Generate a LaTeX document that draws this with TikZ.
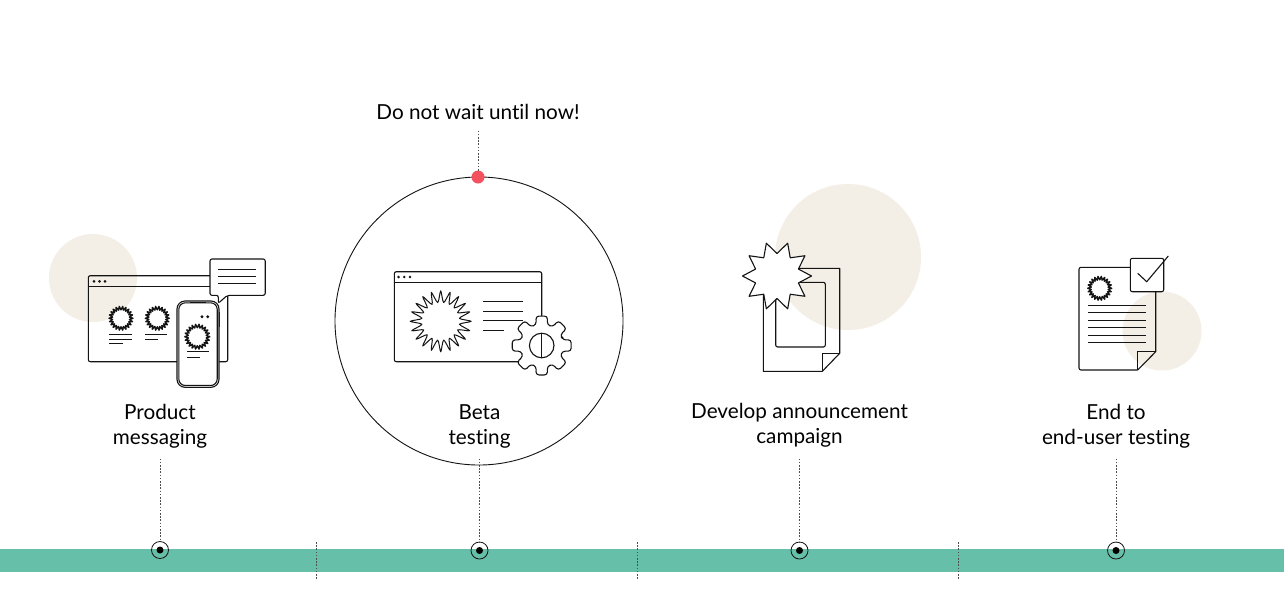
\documentclass[tikz,border=0pt]{standalone}
\usepackage{fontspec}
\setmainfont[Ligatures=NoCommon,Contextuals=NoAlternate]{Lato}
\definecolor{sand}{HTML}{F4EFE6}
\definecolor{band}{HTML}{66BFA8}
\definecolor{ink}{HTML}{141414}
\definecolor{alert}{HTML}{F4515F}
% spiked badge: centre x, centre y, outer radius, inner radius, tips, phase
\newcommand\spikedbadge[7][]{%
  \pgfmathtruncatemacro\lastidx{2*#6-1}%
  \draw[ink,line join=round,fill=white,#1] plot[variable=\k,samples at={0,...,\lastidx}]
    ({#2+(mod(\k,2)==0?#4:#5)*cos(#7+\k*180/#6)},{#3+(mod(\k,2)==0?#4:#5)*sin(#7+\k*180/#6)}) -- cycle;%
}
% the same outline with soft, wavy tips
\newcommand\wavybadge[7][]{%
  \pgfmathtruncatemacro\lastidx{2*#6-1}%
  \draw[ink,line join=round,fill=white,#1] plot[smooth cycle,tension=0.45,variable=\k,samples at={0,...,\lastidx}]
    ({#2+(mod(\k,2)==0?#4:#5)*cos(#7+\k*180/#6)},{#3+(mod(\k,2)==0?#4:#5)*sin(#7+\k*180/#6)});%
}
\tikzset{
  x=1pt,y=-1pt,
  outline/.style={draw=ink,line width=1.1pt,line join=round},
  soft/.style={outline,rounded corners=2pt},
  whitefill/.style={fill=white},
  textline/.style={draw=ink,line width=1pt},
  smalldot/.style={fill=ink,draw=none},
  halo/.style={fill=sand,draw=none},
  stem/.style={draw=ink!75,line width=0.8pt,dash pattern=on 1.6pt off 1.6pt},
  caption/.style={font=\fontsize{20.7}{25}\selectfont,text=black,align=center,inner sep=0pt,outer sep=0pt},
  ring/.style={circle,draw=ink,line width=0.8pt,minimum size=17pt,inner sep=0pt,outer sep=0pt},
  hub/.style={circle,fill=black,minimum size=7pt,inner sep=0pt},
}
\begin{document}
\begin{tikzpicture}
\useasboundingbox (0,0) rectangle (1284,590);
\fill[white] (0,0) rectangle (1284,590);

% timeline band
\fill[band] (0,549) rectangle (1284,572);

% sand discs
\fill[halo] (93,278) circle[radius=44];
\fill[halo] (848,257) circle[radius=73];
\fill[halo] (1162,331) circle[radius=39.5];

% phase separators
\coordinate (sepAt) at (316.7,542); \coordinate (sepAb) at (316.7,580);
\coordinate (sepBt) at (637,542);   \coordinate (sepBb) at (637,580);
\coordinate (sepCt) at (958,542);   \coordinate (sepCb) at (958,580);
\draw[stem] (sepAt) -- (sepAb);
\draw[stem] (sepBt) -- (sepBb);
\draw[stem] (sepCt) -- (sepCb);

% captions
\node[caption,minimum height=64pt] (capA) at (160,426.5) {Product\\messaging};
\node[caption,minimum height=64pt] (capB) at (479.5,426.5) {Beta\\testing};
\node[caption,minimum height=66pt] (capC) at (799.5,425.5) {Develop announcement\\campaign};
\node[caption,minimum height=64pt] (capD) at (1116,426.5) {End to\\end-user testing};

% timeline markers
\node[ring] (mkA) at (160,550) {};
\node[ring] (mkB) at (479.5,550.5) {};
\node[ring] (mkC) at (799.5,550.5) {};
\node[ring] (mkD) at (1116,550.5) {};
\node[hub] at (mkA) {};
\node[hub] at (mkB) {};
\node[hub] at (mkC) {};
\node[hub] at (mkD) {};
\draw[stem] (capA.south) -- (mkA.north);
\draw[stem] (capB.south) -- (mkB.north);
\draw[stem] (capC.south) -- (mkC.north);
\draw[stem] (capD.south) -- (mkD.north);

% browser with phone and speech bubble
\draw[soft] (88.3,275.7) rectangle (227.7,361.7);
\draw[textline] (88.3,286.7) -- (227.7,286.7);
\foreach \px in {94,99.5,105} \fill[smalldot] (\px,281.3) circle[radius=1.5];
\spikedbadge[line width=1.4pt]{121}{318.3}{12}{8.5}{22}{0}
\spikedbadge[line width=1.4pt]{157.3}{318.3}{12}{8.5}{22}{0}
\draw[textline] (109.3,334) -- (131.7,334) (109.3,339) -- (131.7,339) (109.3,343.7) -- (122.7,343.7);
\draw[textline] (145.3,334) -- (167.3,334) (145.3,339) -- (158.3,339);
\draw[textline] (219.3,312) -- (219.3,327);
\draw[outline,whitefill,rounded corners=8pt] (177,301) rectangle (219,387.3);
\draw[outline,rounded corners=6.5pt] (178.8,302.8) rectangle (217.2,385.5);
\draw[textline] (190,302.5) -- (206,302.5);
\fill[smalldot] (202,316.7) circle[radius=1.6] (207.7,316.7) circle[radius=1.6];
\spikedbadge[line width=1.4pt]{197.3}{336.7}{12.5}{9}{22}{0}
\draw[textline] (187,351.7) -- (209,351.7) (187,357) -- (200,357);
\draw[soft,whitefill] (210,259) -- (265.2,259) -- (265.2,295.3) -- (227.3,295.3) -- (218.3,303.3) -- (218.3,295.3) -- (210,295.3) -- cycle;
\draw[textline] (218,269.7) -- (256,269.7) (218,276.7) -- (256,276.7) (218,283.7) -- (256,283.7);

% highlighted phase
\draw[ink,line width=0.9pt] (479,321) circle[radius=144];
\draw[soft] (394.3,271.7) rectangle (541.7,361.7);
\draw[textline] (394.3,282.7) -- (541.7,282.7);
\foreach \px in {398.6,404.3,410} \fill[smalldot] (\px,277) circle[radius=1.4];
\wavybadge[line width=1pt]{440.7}{321.3}{30.5}{19}{20}{-90}
\draw[textline] (483.3,301.7) -- (523,301.7) (483.3,311) -- (523,311) (483.3,320.7) -- (523,320.7) (483.3,330) -- (504,330);
\draw[outline,whitefill,rounded corners=3pt]
  ({541.7+21.5*cos(-15)},{345.5+21.5*sin(-15)})
  \foreach \a in {0,45,...,315}{
    -- ({541.7+30*cos(\a-11)},{345.5+30*sin(\a-11)})
    -- ({541.7+30*cos(\a+11)},{345.5+30*sin(\a+11)})
    -- ({541.7+21.5*cos(\a+15)},{345.5+21.5*sin(\a+15)})
    -- ({541.7+21.5*cos(\a+30)},{345.5+21.5*sin(\a+30)})
  } -- cycle;
\draw[outline] (541.7,345.5) circle[radius=12.3];
\draw[textline] (541.7,333.2) -- (541.7,357.8);

% warning above the highlighted phase
\node[font=\fontsize{20.7}{25}\selectfont,text=black,inner sep=0pt,outer sep=0pt,minimum height=38pt] (warn) at (478,111.5) {Do not wait until now!};
\node[circle,fill=alert,minimum size=13pt,inner sep=0pt,outer sep=0pt] (flag) at (478,177) {};
\draw[stem] (warn.south) -- (flag.north);

% announcement document with badge
\draw[outline] (763.3,268.3) -- (839.7,268.3) -- (839.7,353.3) -- (822.3,371.3) -- (763.3,371.3) -- cycle;
\draw[outline] (822.3,371.3) -- (822.3,353.3) -- (839.7,353.3);
\draw[soft] (775.7,282.3) rectangle (825.3,347);
\spikedbadge[line width=1.1pt]{777}{276}{34.5}{22.5}{10}{0}

% test report with check box
\draw[outline,rounded corners=2pt] (1130.3,267.3) -- (1079,267.3) -- (1079,370) -- (1137.7,370);
\draw[outline] (1137.7,370) -- (1155.7,351.7) -- (1155.7,291.7);
\draw[outline] (1137.7,370) -- (1137.7,351.7) -- (1155.7,351.7);
\spikedbadge[line width=1.4pt]{1099.7}{288.3}{12}{8.5}{22}{0}
\foreach \ly in {305,312.3,320,327.3,335,342.3}
  \draw[textline] (1088.3,\ly) -- (1145.7,\ly);
\draw[soft,whitefill] (1130.3,258.3) rectangle (1163.7,291.7);
\draw[outline] (1137.7,273.3) -- (1146.7,281.7) -- (1168.3,256);
\end{tikzpicture}
\end{document}
